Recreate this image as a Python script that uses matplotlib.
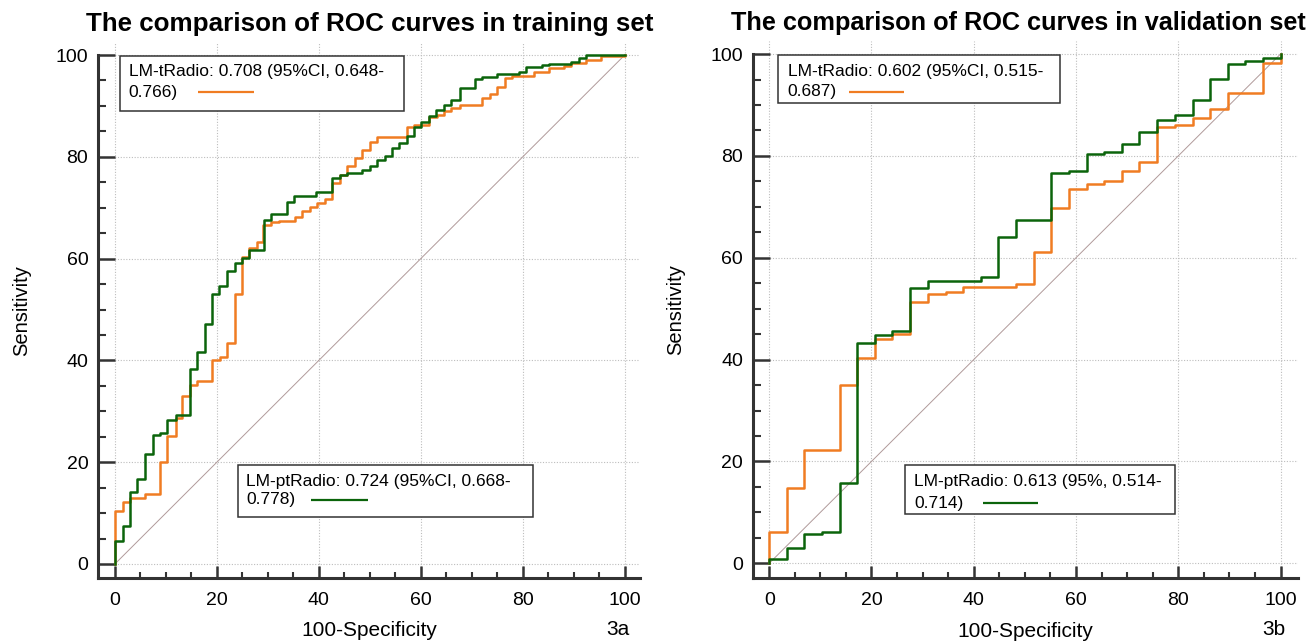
import matplotlib

matplotlib.use("Agg")

import matplotlib.pyplot as plt
from matplotlib.patches import Rectangle
from matplotlib.ticker import MultipleLocator

plt.rcParams["font.family"] = ["Liberation Sans", "DejaVu Sans"]

# ROC corner points (100-Specificity, Sensitivity), drawn as post-steps
train_fpr_t = [0, 0, 1.5, 2.9, 5.9, 8.8, 10.3, 12.0, 13.2, 14.7,
               16.1, 19.1, 20.6, 22.0, 23.5, 24.9, 26.4, 27.8, 29.1, 30.7,
               32.2, 35.3, 36.7, 38.2, 39.7, 41.2, 42.6, 44.1, 45.5, 47.1,
               48.5, 50.0, 51.4, 57.2, 58.6, 61.6, 63.1, 64.5, 66.0, 67.6,
               72.1, 73.5, 75.0, 76.5, 77.9, 82.2, 85.2, 88.0, 89.5, 92.5,
               95.4, 100]
train_tpr_t = [0, 10.5, 12.1, 13.0, 13.7, 20.0, 25.2, 28.7, 33.1, 35.1,
               36.0, 40.1, 40.6, 43.4, 53.1, 60.4, 62.0, 63.3, 66.6, 67.1,
               67.4, 68.2, 69.4, 70.2, 70.9, 71.7, 74.8, 76.4, 78.1, 79.7,
               81.3, 83.0, 83.9, 85.8, 86.2, 87.9, 88.3, 89.0, 89.5, 90.2,
               91.5, 92.4, 93.8, 95.4, 95.8, 96.6, 97.4, 97.9, 98.4, 99.0,
               99.9, 100]

train_fpr_pt = [0, 0, 1.5, 2.9, 4.4, 5.9, 7.4, 8.8, 10.3, 12.0,
                14.7, 16.1, 17.6, 19.0, 20.5, 22.0, 23.5, 24.9, 26.4, 29.3,
                30.7, 33.8, 35.2, 39.5, 42.5, 44.1, 45.5, 48.5, 50.0, 51.4,
                52.9, 54.3, 55.8, 57.2, 58.6, 60.1, 61.6, 63.0, 64.5, 66.0,
                67.6, 70.6, 72.1, 75.0, 79.3, 80.7, 83.7, 85.2, 89.5, 91.0,
                92.5, 100]
train_tpr_pt = [0, 4.6, 7.4, 14.1, 16.7, 21.6, 25.4, 25.8, 28.2, 29.2,
                38.3, 41.7, 47.2, 53.1, 54.7, 57.6, 59.1, 60.1, 61.6, 67.6,
                68.8, 71.1, 72.3, 73.0, 75.9, 76.4, 76.8, 77.4, 78.2, 79.3,
                80.1, 81.7, 82.8, 84.0, 85.8, 86.9, 88.0, 89.2, 90.2, 91.2,
                93.5, 95.2, 95.6, 96.3, 96.7, 97.7, 98.0, 98.2, 98.7, 99.5,
                100, 100]

valid_fpr_t = [0, 0, 3.4, 6.9, 13.8, 17.2, 20.7, 24.1, 27.6, 31.0,
               34.5, 37.9, 48.3, 51.7, 55.2, 58.6, 62.1, 65.5, 69.0, 72.4,
               75.9, 79.3, 82.8, 86.2, 89.7, 96.6, 100]
valid_tpr_t = [0, 6.2, 14.8, 22.2, 35.0, 40.3, 44.0, 45.0, 51.4, 52.9,
               53.3, 54.3, 54.8, 61.2, 69.7, 73.6, 74.5, 75.1, 77.0, 78.9,
               85.6, 86.1, 87.5, 89.3, 92.4, 98.2, 100]

valid_fpr_pt = [0, 0, 3.4, 6.9, 10.3, 13.8, 17.2, 20.7, 24.1, 27.6,
                31.0, 41.4, 44.8, 48.3, 55.2, 58.6, 62.1, 65.5, 69.0, 72.4,
                75.9, 79.3, 82.8, 86.2, 89.7, 93.1, 96.6, 100]
valid_tpr_pt = [0, 0.8, 3.1, 5.7, 6.2, 15.8, 43.2, 44.8, 45.6, 54.0,
                55.5, 56.3, 64.0, 67.4, 76.6, 77.1, 80.3, 80.8, 82.3, 84.6,
                87.0, 88.0, 91.0, 95.2, 98.0, 98.7, 99.2, 100]

titles = ["The comparison of ROC curves in training set",
          "The comparison of ROC curves in validation set"]
panel_tags = ["3a", "3b"]
legend_t = [("LM-tRadio: 0.708 (95%CI, 0.648-", "0.766)"),
            ("LM-tRadio: 0.602 (95%CI, 0.515-", "0.687)")]
legend_pt = [("LM-ptRadio: 0.724 (95%CI, 0.668-", "0.778)"),
             ("LM-ptRadio: 0.613 (95%, 0.514-", "0.714)")]

ORANGE = "#f07c22"
GREEN = "#0b640b"
SPINE = "#333333"


def draw_legend_box(ax, box, lines, text_x, line_ys, sample_x, color):
    x0, y0, x1, y1 = box
    ax.add_patch(Rectangle((x0, y0), x1 - x0, y1 - y0, facecolor="white",
                           edgecolor="#333333", linewidth=1.1, zorder=6))
    for line, y in zip(lines, line_ys):
        ax.text(text_x, y, line, fontsize=12.5, va="center", ha="left", zorder=7)
    ax.plot(sample_x, [line_ys[1], line_ys[1]], color=color, linewidth=1.6,
            zorder=7, solid_capstyle="butt")


def setup_axes(ax, xlim, ylim, title, title_size, title_x, tag, tag_y):
    ax.set_xlim(*xlim)
    ax.set_ylim(*ylim)
    for side in ("top", "right"):
        ax.spines[side].set_visible(False)
    ax.spines["left"].set_bounds(ylim[0], 100)
    for side in ("left", "bottom"):
        ax.spines[side].set_linewidth(2.2)
        ax.spines[side].set_color(SPINE)
    ax.xaxis.set_major_locator(MultipleLocator(20))
    ax.xaxis.set_minor_locator(MultipleLocator(5))
    ax.yaxis.set_major_locator(MultipleLocator(20))
    ax.yaxis.set_minor_locator(MultipleLocator(5))
    ax.tick_params(axis="y", which="major", direction="in", length=12,
                   width=1.8, color=SPINE, labelsize=14, pad=7)
    ax.tick_params(axis="y", which="minor", direction="in", length=6,
                   width=1.5, color=SPINE)
    ax.tick_params(axis="x", which="major", direction="in", length=9,
                   width=1.8, color=SPINE, labelsize=14, pad=10)
    ax.tick_params(axis="x", which="minor", direction="in", length=4.5,
                   width=1.5, color=SPINE)
    ax.grid(True, which="major", linestyle=(0, (1, 1.5)), color="#bdbdbd",
            linewidth=0.8, zorder=0)
    ax.set_axisbelow(True)
    ax.set_xlabel("100-Specificity", fontsize=15, labelpad=9)
    ax.set_ylabel("Sensitivity", fontsize=14.5, labelpad=18)
    ax.set_title(title, fontsize=title_size, fontweight="bold", pad=8, x=title_x)
    ax.text(98.6, tag_y, tag, transform=ax.get_xaxis_transform(), fontsize=15,
            ha="center", va="center")
    ax.plot([0, 100], [0, 100], color="#b09a9a", linewidth=0.7, zorder=2)


fig = plt.figure(figsize=(13.11, 6.42), dpi=100)
ax1 = fig.add_axes([0.0748, 0.0997, 0.4134, 0.8344])
ax2 = fig.add_axes([0.5741, 0.0992, 0.4159, 0.8364])

setup_axes(ax1, (-3.3, 103), (-2.75, 102.5), titles[0], 18.7, 0.502,
           panel_tags[0], -0.097)
setup_axes(ax2, (-3.24, 103.4), (-2.95, 102.5), titles[1], 18.2, 0.488,
           panel_tags[1], -0.096)

ax1.step(train_fpr_t, train_tpr_t, where="post", color=ORANGE, linewidth=1.8, zorder=3)
ax1.step(train_fpr_pt, train_tpr_pt, where="post", color=GREEN, linewidth=1.8, zorder=4)
ax2.step(valid_fpr_t, valid_tpr_t, where="post", color=ORANGE, linewidth=1.8, zorder=3)
ax2.step(valid_fpr_pt, valid_tpr_pt, where="post", color=GREEN, linewidth=1.8, zorder=4)

draw_legend_box(ax1, (1.0, 89.0, 56.7, 99.8), legend_t[0], 2.7, (96.7, 92.7),
                (16.3, 27.3), ORANGE)
draw_legend_box(ax1, (24.1, 9.3, 82.0, 19.5), legend_pt[0], 25.8, (16.2, 12.6),
                (38.4, 49.6), GREEN)
draw_legend_box(ax2, (1.7, 90.4, 56.8, 99.8), legend_t[1], 3.6, (96.5, 92.6),
                (15.6, 26.3), ORANGE)
draw_legend_box(ax2, (26.5, 9.7, 79.3, 19.3), legend_pt[1], 28.4, (16.0, 11.8),
                (41.8, 52.5), GREEN)

fig.savefig("out.png", dpi=100)
